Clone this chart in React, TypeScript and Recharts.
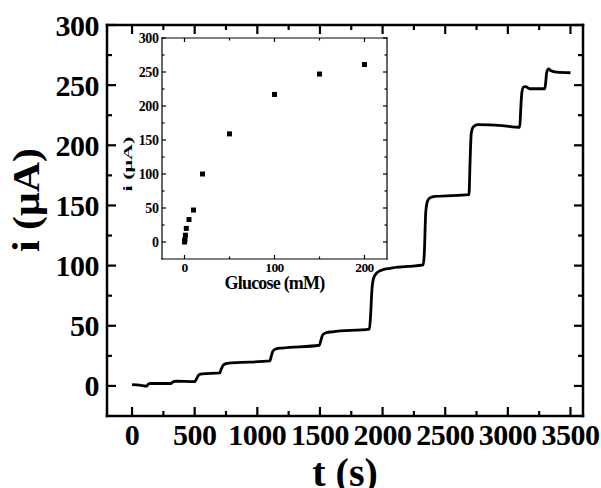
import { LineChart, Line, XAxis, YAxis, ScatterChart, Scatter } from "recharts";

// amperometric response, main trace
const timeS = [
  0, 60, 115, 130, 145, 310, 325, 350, 500, 515, 535, 560, 700, 712, 730, 760,
  1100, 1112, 1125, 1150, 1200, 1495, 1508, 1522, 1550, 1600, 1895, 1905, 1915,
  1928, 1950, 1985, 2060, 2200, 2325, 2333, 2345, 2360, 2380, 2420, 2690, 2698,
  2708, 2725, 2760, 2950, 3095, 3102, 3112, 3125, 3140, 3175, 3295, 3302, 3310,
  3325, 3345, 3390, 3500,
];
const currentUA = [
  1.0, 0.6, -0.2, 1.5, 2.0, 2.0, 3.2, 3.9, 3.6, 6, 9.3, 10.0, 10.8, 14, 17.5, 18.8,
  20.8, 25, 29, 30.8, 31.5, 33.8, 38, 42.5, 44.2, 45, 47.2, 60, 80,
  89.5, 93.5, 96, 97.8, 99.3, 100.6, 110, 145, 154, 156.5, 157.5, 159, 185,
  210, 215.5, 217.2, 216.4, 215, 228, 244, 248.5, 248.8, 247, 247, 252, 260.5,
  263.5, 262, 260.8, 260.3,
];

// inset: calibration
const glucoseMM = [0, 0.1, 0.5, 1, 2, 5, 10, 20, 50, 100, 150, 200];
const responseUA = [0, 1.5, 3.5, 10, 20, 33, 47, 100, 159, 217, 247, 261];

const tTicks = [0, 250, 500, 750, 1000, 1250, 1500, 1750, 2000, 2250, 2500, 2750, 3000, 3250, 3500];
const iTicks = [0, 25, 50, 75, 100, 125, 150, 175, 200, 225, 250, 275, 300];
const cTicks = [0, 50, 100, 150, 200];

const mainData = timeS.map((t, k) => ({ t, i: currentUA[k] }));
const insetData = glucoseMM.map((c, k) => ({ c, i: responseUA[k] }));

const FONT = '"Liberation Serif", "Times New Roman", serif';

// ticks point into the plot; labels only on the major ones
const tickMark = (d: string, sw: number) => <path d={d} stroke="#000" strokeWidth={sw} fill="none" />;

const bottomTick = (step: number, big: number, small: number, size: number, dy: number, sw: number, ls = 0) =>
  (p: any) => {
    const major = p.payload.value % step === 0;
    return (
      <g>
        {tickMark(`M${p.x},${p.y}V${p.y - (major ? big : small)}`, sw)}
        {major && (
          <text x={p.x} y={p.y + dy} textAnchor="middle" fontFamily={FONT} fontWeight="bold"
            fontSize={size} letterSpacing={ls} fill="#000">
            {p.payload.value}
          </text>
        )}
      </g>
    );
  };

const topTick = (step: number, big: number, small: number, sw: number) => (p: any) => {
  const major = p.payload.value % step === 0;
  return tickMark(`M${p.x},${p.y}V${p.y + (major ? big : small)}`, sw);
};

const leftTick = (step: number, big: number, small: number, size: number, gap: number, sw: number, ls = 0) =>
  (p: any) => {
    const major = p.payload.value % step === 0;
    return (
      <g>
        {tickMark(`M${p.x},${p.y}H${p.x + (major ? big : small)}`, sw)}
        {major && (
          <text x={p.x - gap} y={p.y} textAnchor="end" dominantBaseline="central" fontFamily={FONT}
            fontWeight="bold" fontSize={size} letterSpacing={ls} fill="#000">
            {p.payload.value}
          </text>
        )}
      </g>
    );
  };

const rightTick = (step: number, big: number, small: number, sw: number) => (p: any) => {
  const major = p.payload.value % step === 0;
  return tickMark(`M${p.x},${p.y}H${p.x - (major ? big : small)}`, sw);
};

const xTitle = (text: string, size: number, dy: number, ls = 0) => ({
  content: (p: any) => {
    const vb = p.viewBox;
    return (
      <text x={vb.x + vb.width / 2} y={vb.y + dy} textAnchor="middle" fontFamily={FONT} fontWeight="bold"
        fontSize={size} letterSpacing={ls} fill="#000">
        {text}
      </text>
    );
  },
});

const yTitle = (text: string, size: number, cx: number, cy: number, len: number) => ({
  content: () => (
    <text x={cx} y={cy} transform={`rotate(-90 ${cx} ${cy})`} textAnchor="middle" dominantBaseline="central"
      fontFamily={FONT} fontWeight="bold" fontSize={size} textLength={len} lengthAdjust="spacingAndGlyphs" fill="#000">
      {text}
    </text>
  ),
});

const frame = { stroke: "#000", strokeWidth: 2.5, strokeLinecap: "square" as const };
const insetFrame = { stroke: "#000", strokeWidth: 1.2, strokeLinecap: "square" as const };

function Square(props: any) {
  return <rect x={props.cx - 2.5} y={props.cy - 2.5} width={5} height={5} fill="#000" />;
}

export default function App() {
  return (
    <div style={{ position: "absolute", left: 0, top: 0, width: 601, height: 488, background: "#fff" }}>
      <LineChart width={601} height={488} data={mainData} margin={{ top: 24, right: 17, bottom: 0, left: 0 }}>
        <XAxis dataKey="t" type="number" domain={[-200, 3600]} ticks={tTicks} interval={0} height={72}
          tickSize={0} tickMargin={0} tickLine={false} axisLine={frame}
          tick={bottomTick(500, 9, 5, 30, 29, 2.2, -0.5)} label={xTitle("t (s)", 40, 70)} />
        <XAxis xAxisId="top" dataKey="t" type="number" orientation="top" domain={[-200, 3600]} ticks={tTicks}
          interval={0} height={1} tickSize={0} tickMargin={0} tickLine={false} axisLine={frame}
          tick={topTick(500, 9, 5, 2.2)} />
        <YAxis type="number" domain={[-25, 300]} ticks={iTicks} interval={0} width={107}
          tickSize={0} tickMargin={0} tickLine={false} axisLine={frame}
          tick={leftTick(50, 9, 5, 30, 8, 2.2, -0.5)} label={yTitle("i (μA)", 38, 26, 200, 104)} />
        <YAxis yAxisId="right" type="number" orientation="right" domain={[-25, 300]} ticks={iTicks} interval={0}
          width={1} tickSize={0} tickMargin={0} tickLine={false} axisLine={frame} tick={rightTick(50, 9, 5, 2.2)} />
        <Line dataKey="i" type="monotone" stroke="#000" strokeWidth={2.8} dot={false} activeDot={false}
          isAnimationActive={false} />
        <Line xAxisId="top" yAxisId="right" dataKey="i" stroke="none" dot={false} activeDot={false}
          isAnimationActive={false} />
      </LineChart>

      <div style={{ position: "absolute", left: 100, top: 28, pointerEvents: "none" }}>
        <ScatterChart width={300} height={274} margin={{ top: 9, right: 12, bottom: 0, left: 0 }}>
          <XAxis dataKey="c" type="number" domain={[-25, 225]} ticks={cTicks} interval={0} height={43}
            tickSize={0} tickMargin={0} tickLine={false} axisLine={insetFrame}
            tick={bottomTick(100, 4, 2.5, 13.5, 13, 1.2, -0.6)} label={xTitle("Glucose (mM)", 18, 30, -0.8)} />
          <XAxis xAxisId="top" dataKey="c" type="number" orientation="top" domain={[-25, 225]} ticks={cTicks}
            interval={0} height={1} tickSize={0} tickMargin={0} tickLine={false} axisLine={insetFrame}
            tick={topTick(100, 4, 2.5, 1.2)} />
          <YAxis dataKey="i" type="number" domain={[-25, 300]} ticks={iTicks} interval={0} width={62}
            tickSize={0} tickMargin={0} tickLine={false} axisLine={insetFrame}
            tick={leftTick(50, 4, 2.5, 14, 3.5, 1.2, -0.4)} label={yTitle("i (μA)", 13, 27, 136, 55)} />
          <YAxis yAxisId="right" dataKey="i" type="number" orientation="right" domain={[-25, 300]} ticks={iTicks}
            interval={0} width={1} tickSize={0} tickMargin={0} tickLine={false} axisLine={insetFrame}
            tick={rightTick(50, 4, 2.5, 1.2)} />
          <Scatter data={insetData} shape={<Square />} isAnimationActive={false} />
          <Scatter xAxisId="top" yAxisId="right" data={insetData} shape={() => <g />} isAnimationActive={false} />
        </ScatterChart>
      </div>
    </div>
  );
}
